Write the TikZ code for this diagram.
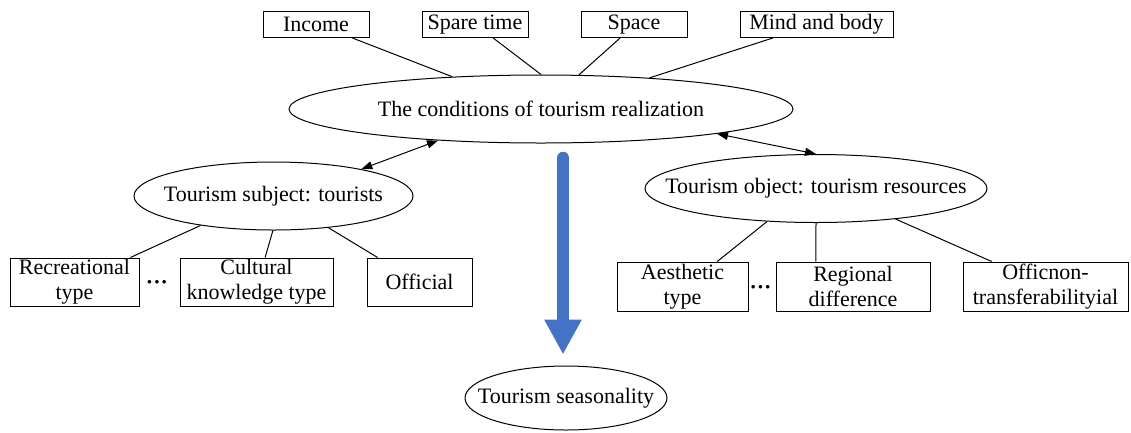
\documentclass[tikz,border=0pt]{standalone}
\usepackage{fontspec}
\setmainfont{Liberation Serif}
\usetikzlibrary{shapes.geometric,arrows.meta,calc}
\definecolor{bluearrow}{HTML}{4472C4}
\begin{document}
\begin{tikzpicture}[x=1pt,y=-1pt,
  every node/.style={font=\fontsize{22}{25}\selectfont},
  topbox/.style={draw,line width=1pt,minimum height=26pt,inner sep=0pt,align=center},
  lowbox/.style={draw,line width=1pt,minimum height=48pt,inner sep=0pt,align=center},
  ell/.style={draw,line width=1pt,ellipse,inner sep=0pt},
  conn/.style={line width=1pt},
  dbl/.style={line width=1pt,{Triangle[length=11pt,width=8pt]}-{Triangle[length=11pt,width=8pt]}},
  bigarrow/.style={line width=12.5pt,bluearrow,line cap=round,-{Triangle[length=35pt,width=35pt]}},
  dots/.style={inner sep=0pt,font=\fontsize{22}{25}\selectfont\bfseries}
]
\useasboundingbox (0,0) rectangle (1131,432);
% top boxes
\node[topbox,minimum width=106pt] (income) at (316,24.5) {Income};
\node[topbox,minimum width=106pt] (spare) at (475,24.5) {Spare time};
\node[topbox,minimum width=106pt] (space) at (634,24.5) {Space};
\node[topbox,minimum width=153pt] (mind) at (816.5,24.5) {Mind and body};
% main ellipse
\node[ell,minimum width=504pt,minimum height=68pt] (main) at (541,109) {\makebox[0pt]{The conditions of tourism realization}};
% subject / object
\node[ell,minimum width=279pt,minimum height=68pt] (subj) at (273.5,196) {\makebox[0pt]{Tourism subject: tourists}};
\node[ell,minimum width=342pt,minimum height=68pt] (obj) at (816,188.5) {\makebox[0pt]{Tourism object: tourism resources}};
% bottom ellipse
\node[ell,minimum width=202pt,minimum height=64pt] (season) at (566,398) {\makebox[0pt]{Tourism seasonality}};
% left boxes
\node[lowbox,minimum width=129pt] (recr) at (74.5,282) {Recreational\\type};
\node[lowbox,minimum width=153pt] (cult) at (256.5,282) {Cultural\\knowledge type};
\node[lowbox,minimum width=105pt] (offi) at (419.5,282) {Official};
\node[dots] (dl) at (157,285) {\char"00B7\char"00B7\char"00B7};
% right boxes
\node[lowbox,minimum width=131pt,minimum height=49pt] (aest) at (682.5,286.5) {Aesthetic\\type};
\node[lowbox,minimum width=154pt,minimum height=49pt] (regi) at (853,286.5) {Regional\\difference};
\node[lowbox,minimum width=165pt,minimum height=49pt] (offn) at (1045.5,286.5) {Officnon-\\transferabilityial};
\node[dots] (dr) at (760.5,290) {\char"00B7\char"00B7\char"00B7};
% top connectors
\draw[conn] ($(income.south west)!0.84!(income.south east)$) -- (main.160.1);
\draw[conn] ($(spare.south west)!0.67!(spare.south east)$) -- (main.90);
\draw[conn] ($(space.south west)!0.37!(space.south east)$) -- (main.42.2);
\draw[conn] ($(mind.south west)!0.216!(mind.south east)$) -- (main.16.6);
% double arrows
\draw[dbl] (subj.17.2) -- (main.197.7);
\draw[dbl] (main.-8.9) -- (obj.90);
% left connectors
\draw[conn] (subj.202.6) -- ($(recr.north west)!0.93!(recr.north east)$);
\draw[conn] (subj.269) -- ($(cult.north west)!0.556!(cult.north east)$);
\draw[conn] (subj.-30.4) -- ($(offi.north west)!0.105!(offi.north east)$);
% right connectors
\draw[conn] (obj.214.8) -- ($(aest.north west)!0.763!(aest.north east)$);
\draw[conn] (obj.270) -- ($(regi.north west)!0.26!(regi.north east)$);
\draw[conn] (obj.-21.9) -- ($(offn.north west)!0.176!(offn.north east)$);
% big blue arrow
\coordinate (btop) at (563,158);
\draw[bigarrow,shorten >=11pt] (btop) -- (season.north -| btop);
\end{tikzpicture}
\end{document}
